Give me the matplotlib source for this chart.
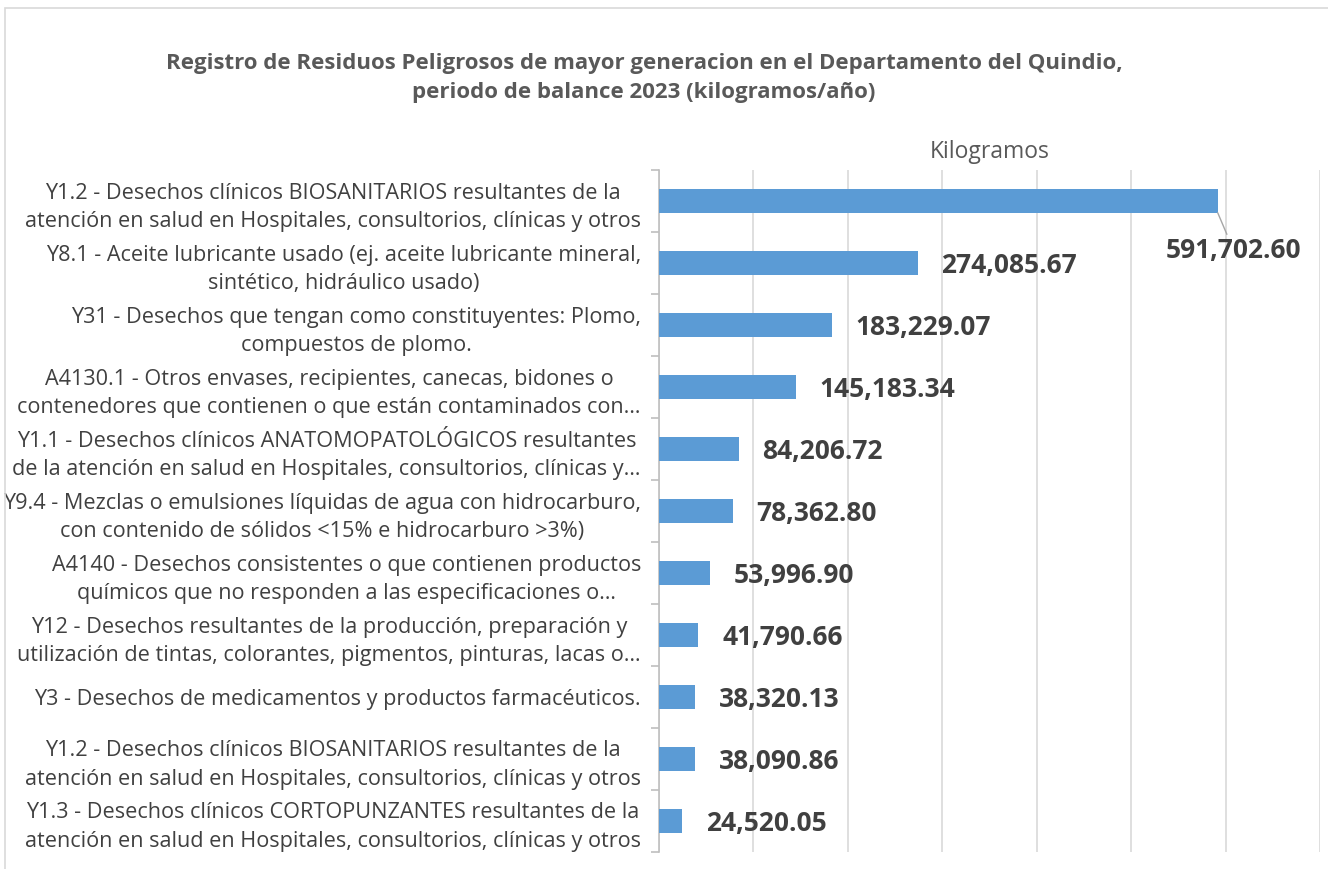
import numpy as np
import matplotlib.pyplot as plt
from matplotlib.patches import Rectangle

# categorias (de arriba hacia abajo) y kilogramos generados
categorias = [
    "Y1.2 - Desechos clínicos BIOSANITARIOS resultantes de la\natención en salud en Hospitales, consultorios, clínicas y otros",
    "Y8.1 - Aceite lubricante usado (ej. aceite lubricante mineral,\nsintético, hidráulico usado)",
    "Y31 - Desechos que tengan como constituyentes: Plomo,\ncompuestos de plomo.",
    "A4130.1 - Otros envases, recipientes, canecas, bidones o\ncontenedores que contienen o que están contaminados con…",
    "Y1.1 - Desechos clínicos ANATOMOPATOLÓGICOS resultantes\nde la atención en salud en Hospitales, consultorios, clínicas y…",
    "Y9.4 - Mezclas o emulsiones líquidas de agua con hidrocarburo,\ncon contenido de sólidos <15% e hidrocarburo >3%)",
    "A4140 - Desechos consistentes o que contienen productos\nquímicos que no responden a las especificaciones o…",
    "Y12 - Desechos resultantes de la producción, preparación y\nutilización de tintas, colorantes, pigmentos, pinturas, lacas o…",
    "Y3 - Desechos de medicamentos y productos farmacéuticos.",
    "Y1.2 - Desechos clínicos BIOSANITARIOS resultantes de la\natención en salud en Hospitales, consultorios, clínicas y otros",
    "Y1.3 - Desechos clínicos CORTOPUNZANTES resultantes de la\natención en salud en Hospitales, consultorios, clínicas y otros",
]
kilogramos = [591702.60, 274085.67, 183229.07, 145183.34, 84206.72, 78362.80,
              53996.90, 41790.66, 38320.13, 38090.86, 24520.05]

titulo = ("Registro de Residuos Peligrosos de mayor generacion en el Departamento del Quindio,\n"
          "periodo de balance 2023 (kilogramos/año)")
serie = "Kilogramos"

plt.rcParams['font.family'] = ['Open Sans', 'DejaVu Sans']

W, H = 1328, 869
fig = plt.figure(figsize=(W / 100, H / 100), dpi=100)
ax = fig.add_axes([659 / W, 1 - 852 / H, (1320 - 659) / W, (852 - 170) / H])

y = np.arange(len(kilogramos))
ax.barh(y, kilogramos, height=0.38, color='#5B9BD5', zorder=3)

ax.set_xlim(0, 700000)
ax.set_ylim(len(kilogramos) - 0.5, -0.5)
ax.set_xticks(np.arange(0, 700001, 100000))
ax.set_xticklabels([])
ax.tick_params(axis='x', length=0)
ax.grid(axis='x', color='#D9D9D9', linewidth=1.2, zorder=0)

ax.set_yticks(y)
ax.set_yticklabels(categorias, fontsize=15.6, color='#404040', ha='right',
                   multialignment='center', linespacing=1.45)
ax.tick_params(axis='y', which='major', length=0, pad=13)
ax.set_yticks(np.arange(-0.5, len(kilogramos)), minor=True)
ax.tick_params(axis='y', which='minor', length=6, color='#BFBFBF', width=1.2)

for s in ['top', 'right', 'bottom']:
    ax.spines[s].set_visible(False)
ax.spines['left'].set_color('#BFBFBF')
ax.spines['left'].set_linewidth(1.2)

# etiquetas de datos
for i, v in enumerate(kilogramos):
    txt = f"{v:,.2f}"
    if i == 0:
        ax.annotate(txt, xy=(v, i + 0.19), xytext=(v + 17000, i + 0.8),
                    ha='center', va='center', fontsize=19, fontweight='bold',
                    color='#404040',
                    arrowprops=dict(arrowstyle='-', color='#A6A6A6', lw=1,
                                    shrinkA=0, shrinkB=0))
    else:
        ax.annotate(txt, xy=(v, i), xytext=(17, -1.5), textcoords='offset points',
                    ha='left', va='center', fontsize=19, fontweight='bold',
                    color='#404040')

ax.set_title(serie, fontsize=16.5, color='#595959', pad=9)

fig.text(644 / W, 1 - 78 / H, titulo, ha='center', va='center', fontsize=16,
         fontweight='bold', color='#595959', linespacing=1.5)

# marco del grafico
fig.patches.append(Rectangle((5 / W, -0.1), 1.2, 1 - 8 / H + 0.1, transform=fig.transFigure,
                             fill=False, edgecolor='#D9D9D9', linewidth=1.2))

fig.savefig('out.png', dpi=100)
